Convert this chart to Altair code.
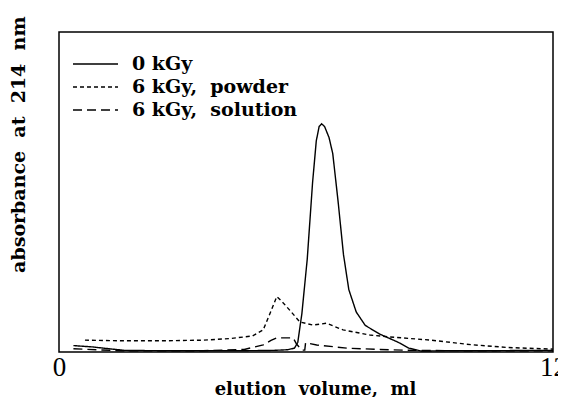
import altair as alt
import pandas as pd

NB = "\u00a0"

series_names = ["0" + NB + "kGy", "6" + NB + "kGy," + NB + NB + "powder", "6" + NB + "kGy," + NB + NB + "solution"]

x_0kgy = [0.35, 0.8, 1.3, 1.6, 2.5, 3.5, 4.5, 5.2, 5.55, 5.72, 5.8, 5.9, 6.03, 6.16, 6.25, 6.32, 6.38,
          6.45, 6.56, 6.65, 6.78, 6.91, 7.04, 7.22, 7.44, 7.79, 8.23, 8.5, 8.8, 9.5, 10.5, 11.5, 12.0]
y_0kgy = [2.0, 1.6, 0.9, 0.5, 0.4, 0.4, 0.4, 0.5, 0.7, 1.2, 3.0, 12.0, 29.0, 53.0, 66.0, 70.5, 71.3,
          70.5, 67.0, 62.0, 47.0, 30.5, 19.5, 12.5, 8.3, 5.6, 3.1, 1.2, 0.3, 0.4, 0.4, 0.5, 0.5]

x_powder = [0.63, 1.5, 2.5, 3.5, 4.15, 4.7, 4.96, 5.13, 5.29, 5.4, 5.61, 5.85, 6.17, 6.5, 6.9, 7.55,
            8.04, 9.0, 10.0, 10.9, 12.0]
y_powder = [3.7, 3.5, 3.5, 3.7, 4.2, 5.0, 6.9, 12.2, 17.3, 16.0, 13.0, 9.4, 8.4, 9.0, 6.9, 5.3,
            4.7, 3.75, 2.3, 1.4, 0.9]

x_solution = [0.35, 1.5, 2.5, 3.5, 4.5, 4.96, 5.15, 5.29, 5.69, 5.77, 5.9, 5.97, 5.99, 6.26, 6.99,
              7.8, 8.6, 10.0, 12.0]
y_solution = [1.0, 0.4, 0.4, 0.4, 0.8, 2.2, 3.6, 4.4, 4.4, 2.5, 0.6, 0.6, 2.9, 2.2, 1.2,
              0.8, 0.5, 0.4, 0.4]

rows = []
for name, xs, ys in [(series_names[0], x_0kgy, y_0kgy),
                     (series_names[1], x_powder, y_powder),
                     (series_names[2], x_solution, y_solution)]:
    for i, (a, b) in enumerate(zip(xs, ys)):
        rows.append({"series": name, "x": a, "y": b, "i": i})
df = pd.DataFrame(rows)

serif = "DejaVu Serif"

chart = alt.Chart(df).mark_line(color="black", strokeWidth=1.4).encode(
    x=alt.X("x:Q",
            scale=alt.Scale(domain=[0, 12], nice=False, zero=False),
            axis=alt.Axis(values=[0, 12], ticks=False, grid=False, domain=False,
                          labelFont="Liberation Serif", labelFontSize=27, labelColor="black",
                          labelPadding=2, labelFlush=False,
                          title="elution" + NB + NB + "volume," + NB + NB + "ml",
                          titleFont=serif, titleFontSize=18, titleFontWeight="bold",
                          titleColor="black", titleX=256, titleY=42, titleBaseline="alphabetic",
                          titleAlign="center")),
    y=alt.Y("y:Q",
            scale=alt.Scale(domain=[0, 100], nice=False),
            axis=alt.Axis(labels=False, ticks=False, grid=False, domain=False,
                          title="absorbance" + NB + NB + "at" + NB + NB + "214" + NB + NB + "nm",
                          titleFont=serif, titleFontSize=19, titleFontWeight="bold",
                          titleColor="black", titleAngle=-90, titleAlign="right",
                          titleX=-41, titleY=-16, titleBaseline="middle")),
    strokeDash=alt.StrokeDash("series:N",
                              scale=alt.Scale(domain=series_names,
                                              range=[[1, 0], [4, 3], [9, 5]]),
                              sort=series_names,
                              legend=alt.Legend(title=None, orient="none", legendX=13, legendY=23,
                                                symbolType="stroke", symbolSize=2025,
                                                symbolStrokeWidth=1.4, symbolStrokeColor="black",
                                                labelFont=serif, labelFontSize=19,
                                                labelFontWeight="bold", labelColor="black",
                                                labelOffset=13, rowPadding=4, padding=0,
                                                clipHeight=18, labelLimit=400)),
    order="i:Q",
).properties(
    width=494, height=320,
    autosize=alt.AutoSizeParams(type="none"),
    padding={"left": 51, "top": 24, "right": 5, "bottom": 45},
).configure_view(stroke="black", strokeWidth=1.5)

chart.save("out.html", embed_options={"renderer": "svg", "actions": False})
